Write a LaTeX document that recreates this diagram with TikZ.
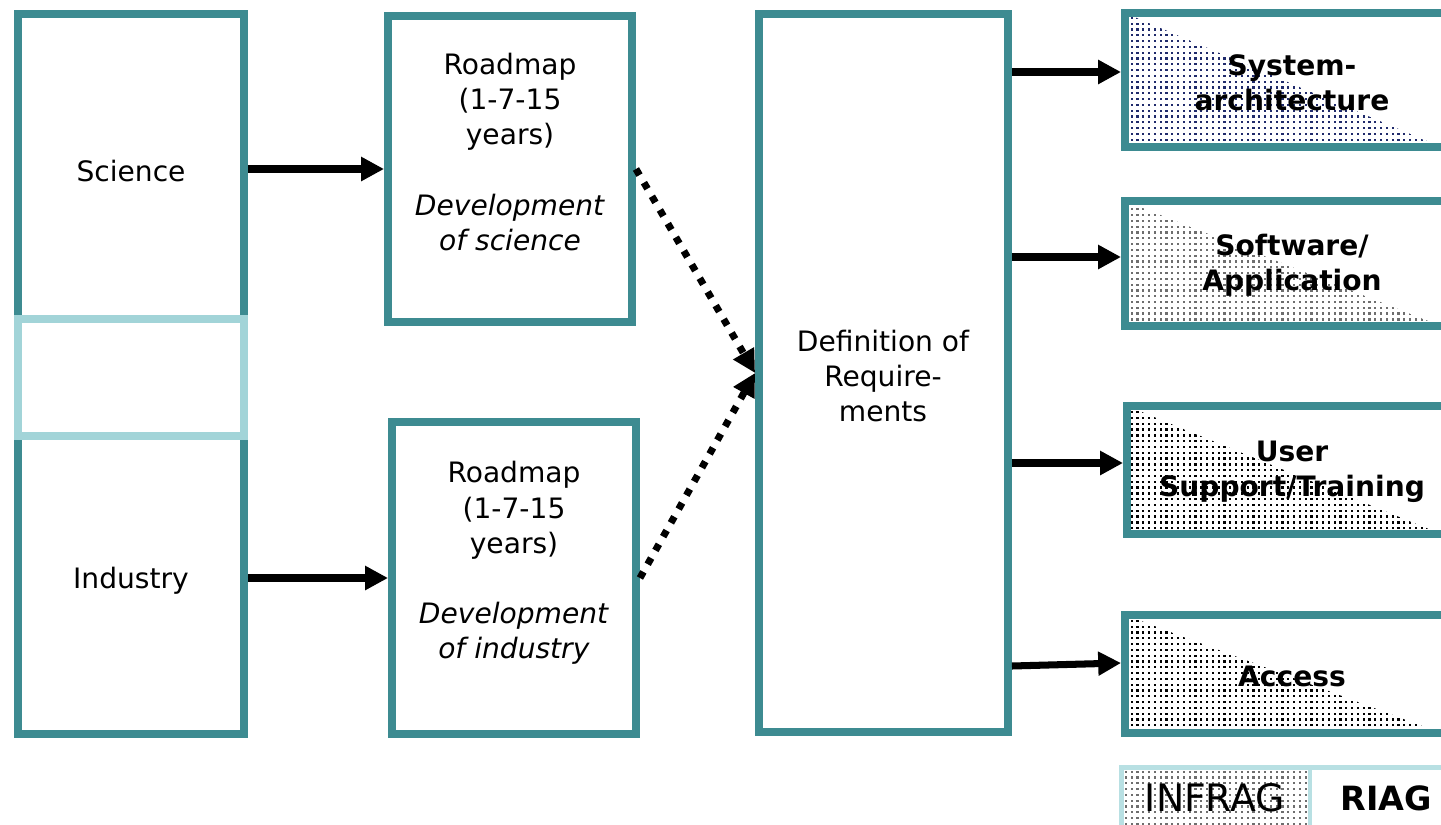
\documentclass[tikz,border=0pt]{standalone}
\usepackage{fontspec}
\setmainfont{DejaVu Sans}
\usetikzlibrary{arrows.meta,fit,patterns,calc}
\definecolor{tealb}{HTML}{3D8B91}
\definecolor{lightteal}{HTML}{A2D4D8}
\definecolor{legendb}{HTML}{B8E0E3}
\definecolor{navydot}{HTML}{1F2A6B}
\definecolor{greydot}{HTML}{6E6E6E}
\pgfdeclarepatternformonly{sqdots}{\pgfqpoint{-1pt}{-1pt}}{\pgfqpoint{2.5pt}{2.5pt}}{\pgfqpoint{3.3pt}{3.3pt}}{%
  \pgfpathrectangle{\pgfqpoint{0pt}{0pt}}{\pgfqpoint{1.3pt}{1.3pt}}\pgfusepath{fill}}
\begin{document}
\begin{tikzpicture}[x=0.02cm,y=-0.02cm,
  box/.style={draw=tealb, line width=4.5pt, inner sep=0pt, fill=white},
  lbox/.style={draw=lightteal, line width=4.5pt, inner sep=0pt, fill=white},
  txt/.style={font=\fontsize{16}{20}\selectfont, align=center, inner sep=0pt},
  btxt/.style={font=\fontsize{16}{20}\selectfont\bfseries, align=center, inner sep=0pt},
  arr/.style={line width=4pt, -{Triangle[length=13pt,width=13pt]}},
  dotarr/.style={arr, dash pattern=on 4pt off 5pt},
  tri/.style={path picture={\fill[pattern=sqdots, pattern color=#1]
     (path picture bounding box.north west) -- (path picture bounding box.south west)
     -- (path picture bounding box.south west -| edge) -- cycle;}},
  leg/.style={draw=legendb, line width=2.8pt, inner sep=0pt}
]
\useasboundingbox (0,0) rectangle (1441,825);
\clip (0,0) rectangle (1441,825);
\coordinate (edge) at (1441,0);

% left column
\node[box, fit={(18,14) (244,319)}] (sci) {};
\node[box, fit={(18,436) (244,734)}] (ind) {};
\node[lbox, fit={(18,319) (244,436)}] (gap) {};
\node[txt] (scit) at (131,171) {Science};
\node[txt] (indt) at (131,581) {Industry};

% roadmaps
\node[box, fit={(388,16) (632,322)}] (rm1) {};
\node[box, fit={(392,422) (636,734)}] (rm2) {};
\node[txt] (rm1t) at (510,152) {Roadmap\\(1-7-15\\years)\\[20pt]\textit{Development}\\\textit{of science}};
\node[txt] (rm2t) at (514,563) {Roadmap\\(1-7-15\\years)\\[20pt]\textit{Development}\\\textit{of industry}};

% definition
\node[box, fit={(759,14) (1008,732)}] (def) {};
\node[txt] (deft) at (883,376) {Definition of\\Require-\\ments};

% right boxes
\node[box, tri=navydot, fit={(1125,13) (1459,147)}] (sys) {};
\node[box, tri=greydot, fit={(1125,201) (1459,326)}] (sw) {};
\node[box, tri=black, fit={(1127,406) (1461,534)}] (usr) {};
\node[box, tri=black, fit={(1125,615) (1459,733)}] (acc) {};
\node[btxt] (syst) at (1292,83) {System-\\architecture};
\node[btxt] (swt) at (1292,265) {Software/\\Application};
\node[btxt] (usrt) at (1292,472) {User\\Support/Training};
\node[btxt] (acct) at (1292,676) {Access};

% legend
\node[leg, pattern=sqdots, pattern color=greydot, fit={(1121.5,767.5) (1310,832)}] (infrag) {};
\node[leg, fill=white, fit={(1310,767.5) (1462,832)}] (riag) {};
\node[inner sep=0pt, font=\fontsize{21.5}{24}\selectfont] (infragt) at (1215,798) {INFRAG};
\node[inner sep=0pt, font=\fontsize{19}{24}\selectfont\bfseries] (riagt) at (1386,798) {RIAG};

% connectors
\draw[arr] (sci.east |- rm1.west) -- (rm1.west);
\draw[arr] (ind.east |- rm2.west) -- (rm2.west);
\draw[dotarr] (rm1.east) -- (def.west);
\draw[dotarr] (rm2.east) -- (def.west);
\draw[arr] ($(def.east |- sys.west)+(0,-8)$) -- ($(sys.west)+(0,-8)$);
\draw[arr] ($(def.east |- sw.west)+(0,-6.5)$) -- ($(sw.west)+(0,-6.5)$);
\draw[arr] ($(def.east |- usr.west)+(0,-7)$) -- ($(usr.west)+(0,-7)$);
\draw[arr] ($(def.east |- acc.west)+(0,-8)$) -- ($(acc.west)+(0,-11)$);
\end{tikzpicture}
\end{document}
